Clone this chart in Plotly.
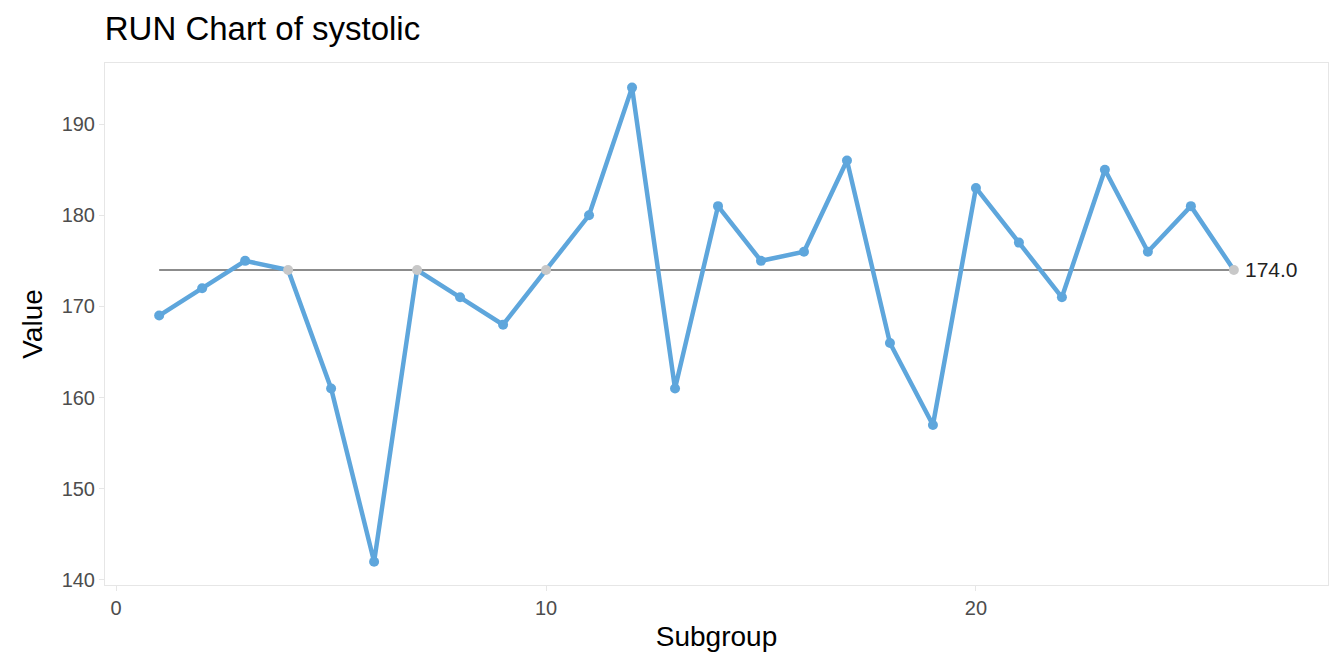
import plotly.graph_objects as go

subgroup = list(range(1, 27))
systolic = [169, 172, 175, 174, 161, 142, 174, 171, 168, 174, 180, 194, 161,
            181, 175, 176, 186, 166, 157, 183, 177, 171, 185, 176, 181, 174]
median = 174.0

colors = ["#c8c8c8" if v == median else "#5ea6dc" for v in systolic]

fig = go.Figure()
fig.add_trace(go.Scatter(x=[1, 26], y=[median, median], mode="lines",
                         line=dict(color="#8c8c8c", width=2), hoverinfo="skip"))
fig.add_trace(go.Scatter(x=subgroup, y=systolic, mode="lines",
                         line=dict(color="#5ea6dc", width=4.5)))
fig.add_trace(go.Scatter(x=subgroup, y=systolic, mode="markers",
                         marker=dict(color=colors, size=10)))
fig.add_annotation(x=26, y=median, text=f"{median:.1f}", showarrow=False,
                   xanchor="left", xshift=9, font=dict(size=21, color="#222"))

axis = dict(showgrid=False, zeroline=False, showline=True, mirror=True,
            linecolor="#e6e6e6", linewidth=1, ticks="outside", ticklen=5,
            tickcolor="#e6e6e6", tickfont=dict(size=20, color="#4d4d4d"))
fig.update_layout(
    width=1344, height=672, template="none", showlegend=False,
    font=dict(family="Liberation Sans, Arial", color="#000"),
    title=dict(text="RUN Chart of systolic", x=0.072, xanchor="left",
               y=0.97, yanchor="middle", font=dict(size=33)),
    margin=dict(l=97, r=24, t=55, b=95),
    plot_bgcolor="white", paper_bgcolor="white",
    xaxis=dict(axis, range=[-0.26, 28.19], tickvals=[0, 10, 20],
               title=dict(text="Subgroup", font=dict(size=28), standoff=8)),
    yaxis=dict(axis, range=[139.45, 196.7], tickvals=[140, 150, 160, 170, 180, 190],
               title=dict(text="Value", font=dict(size=28), standoff=10)),
)
fig.write_html("out.html")
